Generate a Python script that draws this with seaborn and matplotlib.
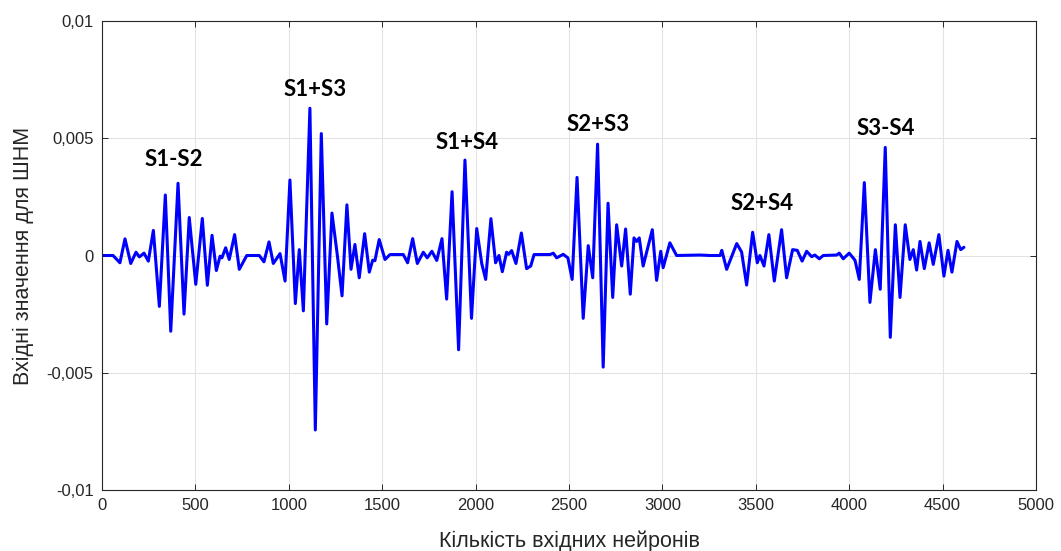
import matplotlib
matplotlib.use("Agg")
import matplotlib.pyplot as plt
import seaborn as sns
from matplotlib.ticker import FixedLocator, FuncFormatter

# Signal (turning points and flat stretches)
neurons = [5, 59, 96, 123, 154, 182, 200, 225, 248, 275, 307, 339, 368, 407, 439, 467, 502, 537, 564, 589,
           612, 632, 642, 662, 681, 710, 735, 775, 842, 867, 894, 917, 953, 980, 1006, 1035, 1056, 1078, 1113, 1142,
           1174, 1203, 1231, 1260, 1285, 1311, 1333, 1354, 1377, 1406, 1431, 1449, 1461, 1484, 1515, 1542, 1613, 1636, 1663, 1688,
           1720, 1741, 1766, 1792, 1820, 1845, 1874, 1909, 1943, 1978, 2006, 2033, 2054, 2082, 2107, 2125, 2143, 2166, 2177, 2193,
           2216, 2245, 2273, 2295, 2313, 2398, 2416, 2434, 2469, 2494, 2517, 2543, 2576, 2603, 2627, 2653, 2683, 2709, 2734, 2755,
           2782, 2803, 2828, 2848, 2862, 2876, 2897, 2946, 2969, 2991, 3004, 3040, 3076, 3201, 3255, 3309, 3318, 3344, 3398, 3424,
           3451, 3483, 3508, 3522, 3544, 3570, 3599, 3638, 3665, 3697, 3722, 3748, 3772, 3799, 3816, 3840, 3861, 3933, 3947, 3968,
           4000, 4031, 4054, 4081, 4111, 4140, 4166, 4193, 4220, 4247, 4272, 4300, 4325, 4343, 4361, 4379, 4402, 4428, 4450, 4480,
           4507, 4529, 4550, 4577, 4597, 4614]
values = [0.0, 0.0, -0.00031, 0.00071, -0.00034, 0.00014, -0.00006, 0.0001, -0.00024, 0.00107,
          -0.00217, 0.00258, -0.00323, 0.00308, -0.0025, 0.00162, -0.00123, 0.00158, -0.00127, 0.00086,
          -0.00064, -0.00003, -0.0001, 0.00033, -0.00017, 0.00089, -0.00059, 0.0, 0.0, -0.00027,
          0.00058, -0.00034, 0.00008, -0.00109, 0.00322, -0.00205, 0.00025, -0.00236, 0.00628, -0.00744,
          0.0052, -0.00292, 0.00181, 0.0, -0.00172, 0.00216, -0.00059, 0.00047, -0.00095, 0.00093,
          -0.00071, -0.0002, -0.00022, 0.00068, -0.00017, 0.00004, 0.00004, -0.00031, 0.00072, -0.00034,
          0.00014, -0.0001, 0.00018, -0.00021, 0.00072, -0.00186, 0.00272, -0.00402, 0.00407, -0.00268,
          0.00115, -0.00035, -0.00102, 0.00157, -0.00031, 0.0, -0.00069, 0.00014, 0.00005, 0.00021,
          -0.00034, 0.00096, -0.00056, -0.00045, 0.00004, 0.00004, 0.0001, -0.0001, 0.00005, -0.0001,
          -0.00102, 0.00333, -0.00268, 0.00042, -0.00095, 0.00475, -0.00476, 0.00223, -0.00179, 0.00131,
          -0.00045, 0.00113, -0.00165, 0.00075, 0.0006, 0.00075, -0.00045, 0.0011, -0.00106, 0.00018,
          -0.00052, 0.00054, 0.0, 0.00002, 0.0, 0.0, 0.00022, -0.00059, 0.00051, 0.00015,
          -0.00126, 0.00099, -0.00031, 0.0, -0.00045, 0.00089, -0.00109, 0.0011, -0.00095, 0.00025,
          0.00022, -0.00024, 0.00018, -0.00005, 0.00002, -0.00014, 0.0, 0.00002, 0.0001, -0.00014,
          0.0001, -0.0002, -0.00102, 0.00311, -0.002, 0.00025, -0.00144, 0.00461, -0.00349, 0.00131,
          -0.00179, 0.00131, -0.00017, 0.00025, -0.00062, 0.0006, -0.00056, 0.00054, -0.00038, 0.00089,
          -0.00088, 0.00022, -0.00071, 0.0006, 0.00025, 0.00035]

label_texts = ["S1-S2", "S1+S3", "S1+S4", "S2+S3", "S2+S4", "S3-S4"]
label_x = [385, 1140, 1954, 2655, 3533, 4196]
label_y = [0.0041, 0.0071, 0.0048, 0.0056, 0.0022, 0.0054]

x_ticks = [0, 500, 1000, 1500, 2000, 2500, 3000, 3500, 4000, 4500, 5000]
y_ticks = [-0.01, -0.005, 0, 0.005, 0.01]
y_tick_labels = ["-0,01", "-0,005", "0", "0,005", "0,01"]

sns.set_theme(style="white")
plt.rcParams['font.family'] = ['Liberation Sans', 'DejaVu Sans']

fig = plt.figure(figsize=(10.61, 5.51), dpi=100)
ax = fig.add_axes([102 / 1061, 1 - 490 / 551, (1036 - 102) / 1061, (490 - 21) / 551])

sns.lineplot(x=neurons, y=values, ax=ax, color="#0000ff", linewidth=2.2,
             estimator=None, sort=False)
for line in ax.get_lines():
    line.set_solid_joinstyle("round")
    line.set_solid_capstyle("round")

for t, xx, yy in zip(label_texts, label_x, label_y):
    ax.text(xx, yy, t, ha="center", va="center", fontsize=16, fontweight="bold",
            family=["Lato", "DejaVu Sans"], color="black")

ax.set_xlim(0, 5000)
ax.set_ylim(-0.01, 0.01)
ax.xaxis.set_major_locator(FixedLocator(x_ticks))
ax.yaxis.set_major_locator(FixedLocator(y_ticks))
ax.yaxis.set_major_formatter(FuncFormatter(lambda v, p: y_tick_labels[y_ticks.index(min(y_ticks, key=lambda t: abs(t - v)))]))

ax.grid(True, color="#e3e3e3", linewidth=0.8)
ax.set_axisbelow(True)
for s in ax.spines.values():
    s.set_color("#262626")
    s.set_linewidth(0.8)
    s.set_visible(True)
ax.tick_params(direction="in", length=4, width=0.7, colors="#262626", labelsize=12,
               top=True, right=True, bottom=True, left=True, pad=6)

ax.set_xlabel("Кількість вхідних нейронів", fontsize=15.5, color="#262626", labelpad=12)
ax.set_ylabel("Вхідні значення для ШНМ", fontsize=15.5, color="#262626", labelpad=9)

fig.savefig("out.png", dpi=100, facecolor="white")
